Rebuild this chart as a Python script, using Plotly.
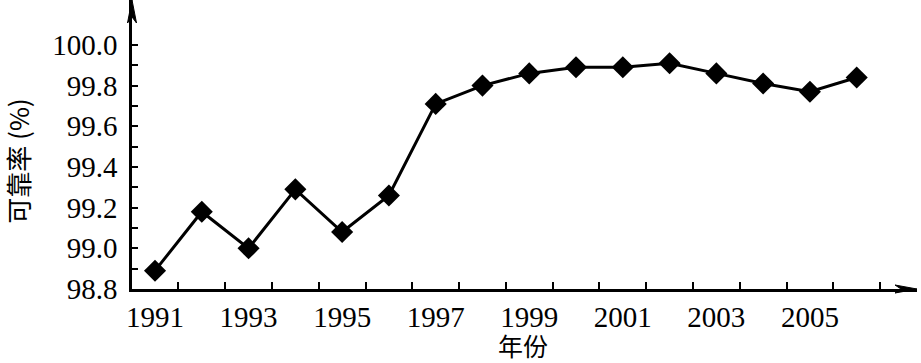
import plotly.graph_objects as go

years = list(range(1991, 2007))
reliability = [98.89, 99.18, 99.00, 99.29, 99.08, 99.26, 99.71, 99.80,
               99.86, 99.89, 99.89, 99.91, 99.86, 99.81, 99.77, 99.84]
x_tick_years = [1991, 1993, 1995, 1997, 1999, 2001, 2003, 2005]
y_tick_vals = [98.8, 99.0, 99.2, 99.4, 99.6, 99.8, 100.0]
y_tick_text = ["98.8", "99.0", "99.2", "99.4", "99.6", "99.8", "100.0"]
x_title = "年份"
y_title = "可靠率 (%)"

SERIF = "Liberation Serif"
CJK = "Noto Sans CJK SC"

fig = go.Figure()
fig.add_trace(go.Scatter(
    x=years, y=reliability, mode="lines+markers",
    line=dict(color="black", width=3),
    marker=dict(symbol="diamond", size=17, color="black"),
    showlegend=False,
))

fig.update_layout(
    width=921, height=363,
    margin=dict(l=132, r=4, t=0, b=73.5),
    paper_bgcolor="white", plot_bgcolor="white",
    font=dict(family=SERIF, size=29, color="black"),
    xaxis=dict(
        range=[1990.508, 2007.289],
        tickmode="array", tickvals=x_tick_years,
        ticktext=[str(v) for v in x_tick_years],
        ticks="", showgrid=False, zeroline=False,
        showline=True, linecolor="black", linewidth=2.5,
        ticklabelstandoff=0,
        minor=dict(tickmode="array",
                   tickvals=[y + 0.5 for y in years],
                   ticks="inside", ticklen=7, tickwidth=2,
                   tickcolor="black", showgrid=False),
        tickfont=dict(family=SERIF, size=29),
    ),
    yaxis=dict(
        range=[98.8, 100.2209],
        tickmode="array", tickvals=y_tick_vals, ticktext=y_tick_text,
        ticks="inside", ticklen=6, tickwidth=2, tickcolor="black",
        showgrid=False, zeroline=False,
        showline=True, linecolor="black", linewidth=2.5,
        ticklabelstandoff=6,
        minor=dict(tickmode="array",
                   tickvals=[98.9, 99.1, 99.3, 99.5, 99.7, 99.9],
                   ticks="inside", ticklen=6, tickwidth=2,
                   tickcolor="black", showgrid=False),
        tickfont=dict(family=SERIF, size=29),
    ),
)

# arrowheads on axes
fig.add_shape(type="path", xref="paper", yref="paper",
              xsizemode="pixel", ysizemode="pixel",
              xanchor=0, yanchor=1,
              path="M0,0 L4.5,-23 L0,-17 L-4.5,-23 Z",
              fillcolor="black", line=dict(color="black", width=1))
fig.add_shape(type="path", xref="paper", yref="paper",
              xsizemode="pixel", ysizemode="pixel",
              xanchor=1, yanchor=0,
              path="M0,0 L-22,4 L-16,0 L-22,-4 Z",
              fillcolor="black", line=dict(color="black", width=1))

# axis titles
fig.add_annotation(text=y_title, xref="paper", yref="paper",
                   x=(18 - 132) / 785, y=(289.5 - 162) / 289.5,
                   xanchor="center", yanchor="middle", textangle=-90,
                   showarrow=False, font=dict(family=CJK, size=26))
fig.add_annotation(text=x_title, xref="paper", yref="paper",
                   x=(523 - 132) / 785, y=(289.5 - 346) / 289.5,
                   xanchor="center", yanchor="middle",
                   showarrow=False, font=dict(family=CJK, size=25))

fig.write_html("out.html")
